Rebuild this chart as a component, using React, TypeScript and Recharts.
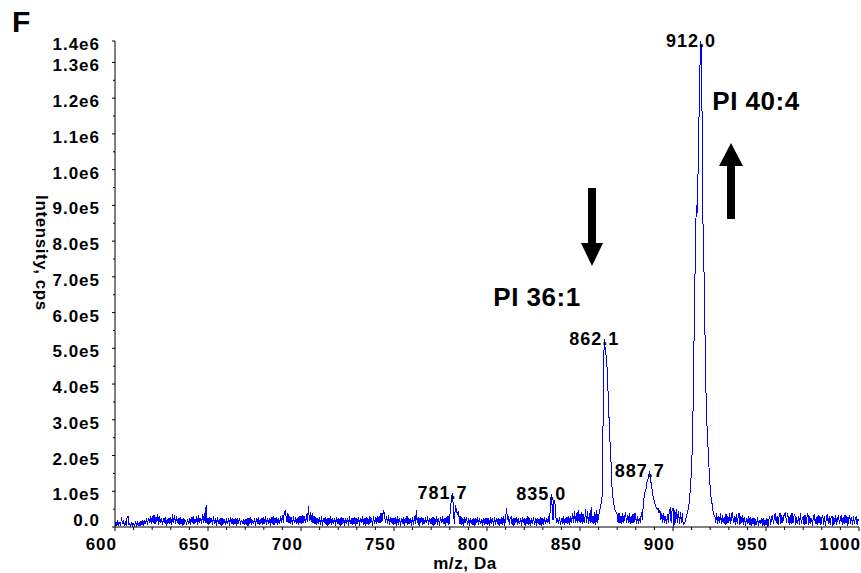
import { LineChart, Line, XAxis, YAxis, ReferenceDot } from "recharts";

const FONT = '"Liberation Sans", Arial, sans-serif';

// spectrum sampled every 0.5 Da from 600 to 1000, intensity in kcps
const mzStart = 600;
const mzStep = 0.5;
const intensityK = [
  // 600
  4, 14, 3, 18, 6, 12, 4, 28, 8, 16, 5, 14, 3, 26, 30, 6, 10, 3, 12, 4,
  // 610
  8, 3, 12, 5, 14, 4, 11, 3, 16, 6, 18, 4, 20, 8, 24, 6, 26, 10, 30, 8,
  // 620
  30, 12, 34, 8, 28, 14, 35, 6, 30, 10, 26, 5, 24, 12, 28, 4, 22, 10, 26, 8,
  // 630
  28, 6, 35, 10, 33, 8, 30, 12, 26, 5, 28, 8, 22, 4, 24, 10, 20, 6, 22, 8,
  // 640
  24, 6, 28, 10, 30, 8, 22, 12, 30, 6, 34, 10, 26, 8, 35, 12, 38, 10, 62, 8,
  // 650
  26, 5, 28, 10, 24, 6, 30, 8, 26, 4, 28, 10, 22, 6, 26, 4, 24, 8, 22, 5,
  // 660
  24, 8, 26, 4, 28, 10, 24, 6, 22, 8, 26, 4, 24, 10, 26, 6, 20, 8, 22, 5,
  // 670
  22, 6, 24, 3, 26, 8, 28, 6, 20, 10, 24, 4, 26, 8, 28, 6, 22, 10, 26, 5,
  // 680
  28, 8, 30, 6, 24, 10, 26, 4, 28, 8, 30, 6, 26, 10, 28, 6, 24, 8, 30, 10,
  // 690
  34, 12, 40, 45, 30, 14, 38, 10, 32, 8, 28, 6, 30, 10, 28, 8, 26, 6, 32, 10,
  // 700
  30, 8, 34, 12, 30, 10, 36, 14, 60, 16, 42, 14, 38, 10, 30, 8, 28, 6, 26, 8,
  // 710
  28, 6, 30, 4, 26, 10, 28, 6, 24, 4, 26, 8, 30, 6, 24, 10, 26, 4, 28, 8,
  // 720
  26, 6, 24, 4, 28, 8, 26, 3, 24, 10, 26, 4, 30, 8, 24, 5, 26, 8, 28, 4,
  // 730
  26, 8, 28, 4, 24, 10, 30, 6, 26, 4, 28, 8, 24, 6, 32, 10, 24, 4, 30, 8,
  // 740
  28, 8, 32, 10, 30, 12, 40, 14, 36, 46, 30, 10, 32, 8, 34, 6, 28, 10, 26, 6,
  // 750
  26, 8, 28, 4, 30, 6, 26, 4, 24, 8, 28, 4, 26, 10, 30, 6, 24, 8, 26, 4,
  // 760
  28, 6, 30, 8, 48, 10, 28, 4, 26, 12, 28, 6, 24, 8, 28, 10, 30, 6, 26, 8,
  // 770
  26, 6, 28, 4, 24, 10, 30, 6, 26, 4, 28, 10, 30, 8, 26, 4, 28, 12, 32, 5,
  // 780
  30, 60, 85, 95, 40, 8, 62, 50, 35, 42, 28, 8, 30, 6, 26, 4, 28, 10, 28, 6,
  // 790
  24, 4, 26, 8, 22, 6, 24, 4, 26, 10, 28, 6, 24, 8, 22, 4, 26, 6, 24, 8,
  // 800
  26, 6, 24, 4, 28, 8, 26, 4, 28, 6, 24, 10, 26, 4, 22, 8, 28, 6, 30, 4,
  // 810
  24, 52, 20, 30, 6, 26, 28, 6, 24, 4, 26, 10, 28, 6, 24, 8, 26, 4, 28, 10,
  // 820
  26, 4, 24, 8, 30, 6, 26, 4, 24, 10, 28, 6, 24, 4, 26, 8, 22, 6, 28, 4,
  // 830
  26, 6, 28, 8, 24, 10, 30, 8, 50, 92, 60, 20, 75, 68, 30, 10, 25, 8, 28, 6,
  // 840
  26, 8, 30, 6, 24, 10, 28, 8, 30, 6, 32, 12, 40, 10, 45, 12, 38, 10, 48, 14,
  // 850
  36, 10, 42, 8, 36, 12, 50, 10, 45, 8, 38, 12, 55, 10, 30, 8, 42, 6, 48, 12,
  // 860
  30, 45, 55, 70, 90, 350, 525, 500, 480, 450, 390, 320, 250, 210, 130, 90, 70, 55, 45, 40,
  // 870
  35, 12, 40, 10, 32, 8, 38, 12, 30, 42, 10, 34, 12, 38, 8, 30, 10, 36, 12, 40,
  // 880
  24, 10, 30, 8, 26, 12, 42, 20, 60, 85, 100, 106, 125, 134, 145, 157, 130, 115, 95, 80,
  // 890
  72, 62, 55, 48, 52, 40, 46, 20, 38, 12, 40, 10, 30, 8, 35, 12, 45, 50, 10, 48,
  // 900
  52, 0, 48, 12, 50, 10, 46, 8, 42, 10, 38, 6, 10, 15, 25, 35, 45, 60, 85, 120,
  // 910
  170, 240, 400, 600, 760, 900, 880, 1000, 1150, 1290, 1360, 1230, 880, 760, 620, 420, 330, 250, 210, 150,
  // 920
  110, 80, 65, 45, 35, 30, 12, 38, 8, 30, 10, 40, 8, 34, 10, 28, 6, 36, 8, 30,
  // 930
  10, 38, 8, 34, 42, 10, 30, 6, 36, 8, 28, 40, 6, 30, 10, 34, 6, 28, 4, 26,
  // 940
  8, 30, 6, 28, 4, 24, 8, 26, 3, 22, 6, 28, 4, 20, 8, 24, 4, 26, 3, 20,
  // 950
  6, 24, 0, 20, 30, 6, 26, 34, 8, 28, 38, 10, 32, 6, 28, 40, 8, 34, 10, 30,
  // 960
  36, 42, 10, 38, 28, 6, 34, 8, 40, 10, 30, 36, 6, 28, 8, 32, 6, 38, 10, 22,
  // 970
  30, 6, 34, 8, 28, 38, 6, 32, 8, 26, 4, 30, 36, 8, 28, 6, 34, 10, 30, 6,
  // 980
  26, 34, 6, 30, 4, 28, 36, 8, 32, 6, 26, 30, 4, 28, 8, 34, 6, 26, 30, 8,
  // 990
  24, 32, 6, 28, 8, 34, 10, 30, 4, 26, 32, 8, 28, 6, 30, 10, 24, 28, 6, 22,
  // 1000
  18,
];

const xTicks = [
  600, 610, 620, 630, 640, 650, 660, 670, 680, 690, 700, 710, 720, 730, 740,
  750, 760, 770, 780, 790, 800, 810, 820, 830, 840, 850, 860, 870, 880, 890,
  900, 910, 920, 930, 940, 950, 960, 970, 980, 990, 1000,
];
const yMajorTicks = [
  0, 100000, 200000, 300000, 400000, 500000, 600000, 700000, 800000, 900000,
  1000000, 1100000, 1200000, 1300000,
];
const yMinorTicks = [
  50000, 150000, 250000, 350000, 450000, 550000, 650000, 750000, 850000,
  950000, 1050000, 1150000, 1250000,
];
const yMax = 1360000;
const yMaxLabel = "1.4e6";

// labelled peaks (label text is the instrument's value)
const peakMz = [781.5, 834.5, 863, 887.5, 915];
const peakIntensity = [95000, 92000, 525000, 157000, 1360000];
const peakLabels = ["781.7", "835.0", "862.1", "887.7", "912.0"];

const data = intensityK.map((v, i) => ({
  mz: mzStart + i * mzStep,
  intensity: v * 1000,
}));

const yTicks = [...yMajorTicks, ...yMinorTicks, yMax].sort((a, b) => a - b);

const textStyle = {
  fontFamily: FONT,
  fontWeight: 700,
  fill: "#000",
};

function sciLabel(v: number) {
  if (v === yMax) return yMaxLabel;
  if (v === 0) return "0.0";
  const e = Math.floor(Math.log10(v));
  return `${(v / Math.pow(10, e)).toFixed(1)}e${e}`;
}

function XTick({ x, y, payload }: any) {
  const v = payload.value;
  const major = v % 50 === 0;
  return (
    <g>
      <line x1={x} x2={x} y1={y} y2={y + (major ? 4 : 3)} stroke="#000" />
      {major && (
        <text x={x + 2} y={y + 23} textAnchor="end" fontSize={17} letterSpacing={1} style={textStyle}>
          {v}
        </text>
      )}
    </g>
  );
}

function YTick({ x, y, payload }: any) {
  const v = payload.value;
  const minor = yMinorTicks.includes(v);
  return (
    <g>
      <line x1={x - (minor ? 2 : 3)} x2={x} y1={y} y2={y} stroke="#000" />
      {!minor && (
        <text
          x={x - 15}
          y={v === 0 ? y - 1 : y + 9}
          textAnchor="end"
          fontSize={17}
          letterSpacing={1}
          style={textStyle}
        >
          {sciLabel(v)}
        </text>
      )}
    </g>
  );
}

export default function App() {
  return (
    <div style={{ position: "absolute", left: 0, top: 0, width: 861, height: 573, background: "#fff" }}>
      <style>{`.recharts-line-curve { shape-rendering: crispEdges; }`}</style>
      <LineChart
        width={861}
        height={573}
        data={data}
        margin={{ top: 41, right: 2, bottom: 16, left: 0 }}
      >
        <XAxis
          dataKey="mz"
          type="number"
          domain={[600, 1000]}
          ticks={xTicks}
          interval={0}
          height={30}
          tickSize={0}
          tickMargin={0}
          tickLine={false}
          axisLine={{ stroke: "#000" }}
          tick={<XTick />}
        />
        <YAxis
          type="number"
          domain={[0, yMax]}
          ticks={yTicks}
          interval={0}
          width={115}
          tickSize={0}
          tickMargin={0}
          tickLine={false}
          axisLine={{ stroke: "#000" }}
          tick={<YTick />}
        />
        <Line
          type="linear"
          dataKey="intensity"
          stroke="#0000ff"
          strokeWidth={1}
          dot={false}
          isAnimationActive={false}
        />
        {peakMz.map((mz, i) => (
          <ReferenceDot
            key={mz}
            x={mz}
            y={peakIntensity[i]}
            r={0}
            ifOverflow="visible"
            shape={(p: any) => (
              <text
                x={p.cx - 10}
                y={p.cy + 6}
                textAnchor="middle"
                fontSize={18}
                letterSpacing={1}
                style={textStyle}
              >
                {peakLabels[i]}
              </text>
            )}
          />
        ))}
      </LineChart>
      <svg
        width={861}
        height={573}
        style={{ position: "absolute", left: 0, top: 0, pointerEvents: "none" }}
      >
        <text x={12} y={32} fontSize={30} style={textStyle}>F</text>
        <text
          transform="translate(36,253) rotate(90)"
          textAnchor="middle"
          fontSize={17}
          letterSpacing={0.6}
          style={textStyle}
        >
          Intensity, cps
        </text>
        <text x={465} y={569} textAnchor="middle" fontSize={17} letterSpacing={0.6} style={textStyle}>
          m/z, Da
        </text>
        <text x={537} y={306} textAnchor="middle" fontSize={26} letterSpacing={0.5} style={textStyle}>
          PI 36:1
        </text>
        <text x={756} y={110} textAnchor="middle" fontSize={26} letterSpacing={0.5} style={textStyle}>
          PI 40:4
        </text>
        {/* down arrow */}
        <polygon points="588,188 596,188 596,243 603,243 592,266 581,243 588,243" fill="#000" />
        {/* up arrow */}
        <polygon points="731,143 743,166 735,166 735,219 727,219 727,166 719,166" fill="#000" />
      </svg>
    </div>
  );
}
